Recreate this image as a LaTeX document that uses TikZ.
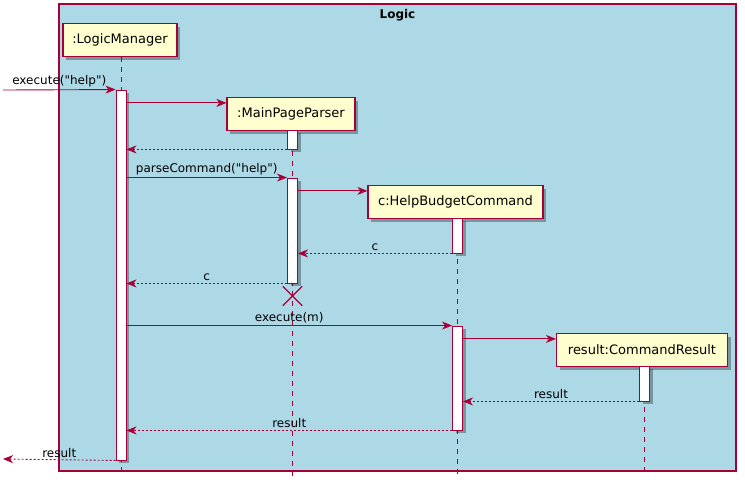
\documentclass[tikz,border=0pt]{standalone}
\usepackage{fontspec}
\setmainfont{DejaVu Sans}[Ligatures=TeXOff]
\usetikzlibrary{positioning}
\usetikzlibrary{shapes.misc}
\usetikzlibrary{shadows}
\usetikzlibrary{arrows.meta}
\definecolor{umlred}{HTML}{A80036}
\definecolor{umlbox}{HTML}{FEFECE}
\definecolor{umlblue}{HTML}{ADD8E6}
\tikzstyle{shade} = [drop shadow={shadow xshift=3pt,shadow yshift=-3pt,fill=black,opacity=0.3}]
\tikzstyle{P} = [rectangle,draw=umlred,fill=umlbox,line width=1.2pt,minimum height=33pt,inner sep=0pt,font=\fontsize{13}{15}\selectfont,shade]
\tikzstyle{A} = [rectangle,draw=umlred,fill=white,line width=0.9pt,minimum width=10pt,inner sep=0pt,shade]
\tikzstyle{life} = [draw=umlred,line width=0.8pt,dash pattern=on 5pt off 5pt]
\tikzstyle{msg} = [->,draw=umlred,line width=0.9pt]
\tikzstyle{ret} = [msg,dash pattern=on 2pt off 2pt]
\tikzstyle{lbl} = [midway,above,text=black,inner sep=2pt,font=\fontsize{12}{14}\selectfont]
\tikzset{>={Stealth[length=10pt,width=8pt,inset=3pt]}}

\begin{document}
\begin{tikzpicture}[x=1pt,y=-1pt]
  \useasboundingbox (0,0) rectangle (745,488);
  \node [draw=umlred,fill=umlblue,line width=1.2pt,minimum width=677pt,minimum height=467pt,inner sep=0pt] (logic) at (397.5,237.5) {};
  \node [font=\bfseries\fontsize{12}{14}\selectfont,below=2pt of logic.north] (title) {Logic};
  \coordinate (bot) at (0,476);

  % participants
  \node [P,minimum width=114pt] (lm) at (120,40) {:LogicManager};
  \node [P,minimum width=128pt] (mpp) at (291,114) {:MainPageParser};
  \node [P,minimum width=175pt] (hbc) at (455.5,202) {c:HelpBudgetCommand};
  \node [P,minimum width=171pt] (cr) at (642,350) {result:CommandResult};

  \draw [life] (lm.south -| 121,0) -- (bot -| 121,0);
  \draw [life] (mpp.south -| 292,0) -- (bot -| 292,0);
  \draw [life] (hbc.south -| 457,0) -- (bot -| 457,0);
  \draw [life] (cr.south -| 644,0) -- (bot -| 644,0);

  % activations
  \node [A,minimum height=370pt] (a1) at (121,275) {};
  \node [A,minimum height=19pt] (a2) at (292.5,139.5) {};
  \node [A,minimum height=105pt] (a3) at (292.5,230.5) {};
  \node [A,minimum height=35pt] (a4) at (457.5,235.5) {};
  \node [A,minimum height=104pt] (a5) at (457.5,378) {};
  \node [A,minimum height=35pt] (a6) at (644.5,383.5) {};

  \coordinate (inL) at (3,90);
  \coordinate (outL) at (3,459);
  \coordinate (m2) at ([yshift=-6pt]mpp.north west);
  \coordinate (m5) at ([yshift=-6pt]hbc.north west);
  \coordinate (m10) at ([yshift=-6pt]cr.north west);

  \draw [msg] (inL) -- (a1.north west) node [lbl] {execute("help")};
  \draw [msg] (a1.east |- m2) -- (m2);
  \draw [ret] (a2.south west) -- (a1.east |- a2.south);
  \draw [msg] (a1.east |- a3.north) -- (a3.north west) node [lbl] {parseCommand("help")};
  \draw [msg] (a3.east |- m5) -- (m5);
  \draw [ret] (a4.south west) -- (a3.east |- a4.south) node [lbl] {c};
  \draw [ret] (a3.south west) -- (a1.east |- a3.south) node [lbl] {c};
  \node [cross out,draw=umlred,line width=1.3pt,minimum size=18pt,inner sep=0pt] (kill) at (292.5,296) {};
  \draw [msg] (a1.east |- a5.north) -- (a5.north west) node [lbl] {execute(m)};
  \draw [msg] (a5.east |- m10) -- (m10);
  \draw [ret] (a6.south west) -- (a5.east |- a6.south) node [lbl] {result};
  \draw [ret] (a5.south west) -- (a1.east |- a5.south) node [lbl] {result};
  \draw [ret] (a1.south west) -- (outL) node [lbl] {result};
\end{tikzpicture}
\end{document}
